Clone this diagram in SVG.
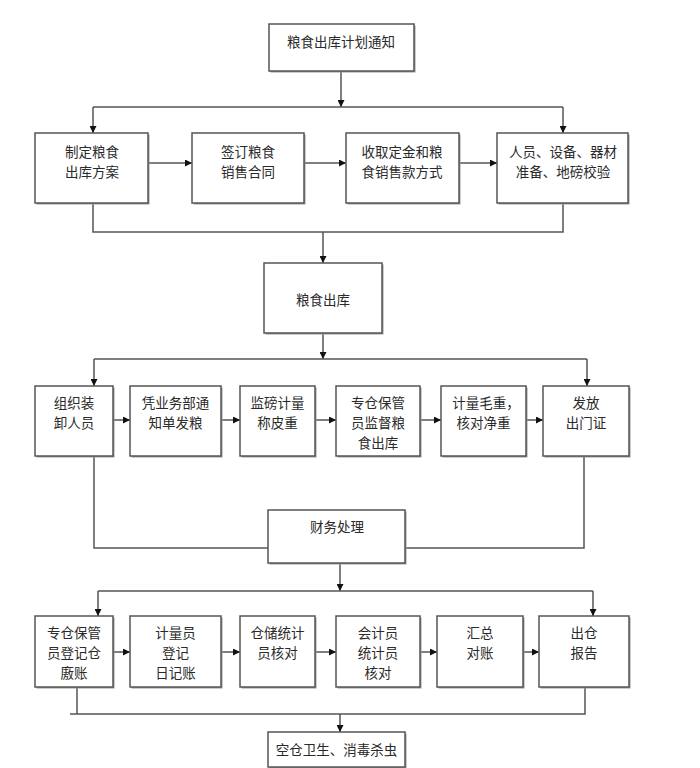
<svg xmlns="http://www.w3.org/2000/svg" width="700" height="768" viewBox="0 0 700 768">
<defs>
<marker id="ah" viewBox="0 0 10 10" refX="10" refY="5" markerWidth="7" markerHeight="7" markerUnits="userSpaceOnUse" orient="auto">
<path d="M0,0 L10,5 L0,10 z" fill="#111"/>
</marker>
<style>
.box{fill:#fff;stroke:#555;stroke-width:1.5}
.sh{fill:#9a9a9a}
.t{font-family:"Noto Sans CJK SC","Noto Sans",sans-serif;font-size:13.5px;fill:#2a2a2a;text-anchor:middle}
.c{fill:none;stroke:#555;stroke-width:1.5}
.a{marker-end:url(#ah)}
</style>
</defs>
<rect width="700" height="768" fill="#fff"/>
<g id="connectors">
<path class="c a" d="M341,71 V107"/>
<path class="c" d="M93,107 H563"/>
<path class="c a" d="M93,107 V133"/>
<path class="c a" d="M563,107 V133"/>
<path class="c a" d="M148,163 H192"/>
<path class="c a" d="M304,163 H346"/>
<path class="c a" d="M459,163 H497"/>
<path class="c" d="M93,203 V232 H563 V203"/>
<path class="c a" d="M323,232 V263"/>
<path class="c a" d="M323,333 V359"/>
<path class="c" d="M94,359 H587"/>
<path class="c a" d="M94,359 V386"/>
<path class="c a" d="M587,359 V386"/>
<path class="c a" d="M113,420 H130"/>
<path class="c a" d="M221,420 H240"/>
<path class="c a" d="M315,420 H336"/>
<path class="c a" d="M420,420 H441"/>
<path class="c a" d="M526,420 H543"/>
<path class="c" d="M94,456 V548 H268"/>
<path class="c" d="M584,456 V548 H405"/>
<path class="c a" d="M340,563 V591"/>
<path class="c" d="M98,591 H593"/>
<path class="c a" d="M98,591 V616"/>
<path class="c a" d="M593,591 V616"/>
<path class="c a" d="M113,652 H130"/>
<path class="c a" d="M221,652 H240"/>
<path class="c a" d="M315,652 H336"/>
<path class="c a" d="M420,652 H437"/>
<path class="c a" d="M523,652 H539"/>
<path class="c" d="M77,687 V714"/>
<path class="c" d="M70,714 H585 V687"/>
<path class="c a" d="M340,714 V732"/>
</g>
<g id="n0"><rect class="sh" x="270.5" y="25.5" width="145" height="47"/><rect class="box" x="269" y="24" width="145" height="47"/><text class="t" x="341" y="47">粮食出库计划通知</text></g>
<g id="n1"><rect class="sh" x="36.5" y="134.5" width="113" height="70"/><rect class="box" x="35" y="133" width="113" height="70"/><text class="t" x="92" y="157">制定粮食</text><text class="t" x="92" y="177">出库方案</text></g>
<g id="n2"><rect class="sh" x="193.5" y="134.5" width="112" height="70"/><rect class="box" x="192" y="133" width="112" height="70"/><text class="t" x="248" y="157">签订粮食</text><text class="t" x="248" y="177">销售合同</text></g>
<g id="n3"><rect class="sh" x="347.5" y="134.5" width="113" height="70"/><rect class="box" x="346" y="133" width="113" height="70"/><text class="t" x="402" y="157">收取定金和粮</text><text class="t" x="402" y="177">食销售款方式</text></g>
<g id="n4"><rect class="sh" x="498.5" y="134.5" width="131" height="70"/><rect class="box" x="497" y="133" width="131" height="70"/><text class="t" x="563" y="157">人员、设备、器材</text><text class="t" x="563" y="177">准备、地磅校验</text></g>
<g id="n5"><rect class="sh" x="265.5" y="264.5" width="118" height="70"/><rect class="box" x="264" y="263" width="118" height="70"/><text class="t" x="323" y="305">粮食出库</text></g>
<g id="n6"><rect class="sh" x="36.5" y="387.5" width="78" height="70"/><rect class="box" x="35" y="386" width="78" height="70"/><text class="t" x="74" y="408">组织装</text><text class="t" x="74" y="428">卸人员</text></g>
<g id="n7"><rect class="sh" x="131.5" y="387.5" width="91" height="70"/><rect class="box" x="130" y="386" width="91" height="70"/><text class="t" x="175.5" y="408">凭业务部通</text><text class="t" x="175.5" y="428">知单发粮</text></g>
<g id="n8"><rect class="sh" x="241.5" y="387.5" width="75" height="70"/><rect class="box" x="240" y="386" width="75" height="70"/><text class="t" x="277.5" y="408">监磅计量</text><text class="t" x="277.5" y="428">称皮重</text></g>
<g id="n9"><rect class="sh" x="337.5" y="387.5" width="84" height="70"/><rect class="box" x="336" y="386" width="84" height="70"/><text class="t" x="378" y="408">专仓保管</text><text class="t" x="378" y="428">员监督粮</text><text class="t" x="378" y="448">食出库</text></g>
<g id="n10"><rect class="sh" x="442.5" y="387.5" width="85" height="70"/><rect class="box" x="441" y="386" width="85" height="70"/><text class="t" x="486" y="408">计量毛重，</text><text class="t" x="483.5" y="428">核对净重</text></g>
<g id="n11"><rect class="sh" x="544.5" y="387.5" width="86" height="70"/><rect class="box" x="543" y="386" width="86" height="70"/><text class="t" x="586" y="408">发放</text><text class="t" x="586" y="428">出门证</text></g>
<g id="n12"><rect class="sh" x="269.5" y="511.5" width="137" height="53"/><rect class="box" x="268" y="510" width="137" height="53"/><text class="t" x="337" y="532">财务处理</text></g>
<g id="n13"><rect class="sh" x="36.5" y="617.5" width="78" height="71"/><rect class="box" x="35" y="616" width="78" height="71"/><text class="t" x="74" y="638">专仓保管</text><text class="t" x="74" y="658">员登记仓</text><text class="t" x="74" y="678">廒账</text></g>
<g id="n14"><rect class="sh" x="131.5" y="617.5" width="91" height="71"/><rect class="box" x="130" y="616" width="91" height="71"/><text class="t" x="175.5" y="638">计量员</text><text class="t" x="175.5" y="658">登记</text><text class="t" x="175.5" y="678">日记账</text></g>
<g id="n15"><rect class="sh" x="241.5" y="617.5" width="75" height="71"/><rect class="box" x="240" y="616" width="75" height="71"/><text class="t" x="277.5" y="638">仓储统计</text><text class="t" x="277.5" y="658">员核对</text></g>
<g id="n16"><rect class="sh" x="337.5" y="617.5" width="84" height="71"/><rect class="box" x="336" y="616" width="84" height="71"/><text class="t" x="378" y="638">会计员</text><text class="t" x="378" y="658">统计员</text><text class="t" x="378" y="678">核对</text></g>
<g id="n17"><rect class="sh" x="438.5" y="617.5" width="86" height="71"/><rect class="box" x="437" y="616" width="86" height="71"/><text class="t" x="480" y="638">汇总</text><text class="t" x="480" y="658">对账</text></g>
<g id="n18"><rect class="sh" x="540.5" y="617.5" width="90" height="71"/><rect class="box" x="539" y="616" width="90" height="71"/><text class="t" x="584" y="638">出仓</text><text class="t" x="584" y="658">报告</text></g>
<g id="n19"><rect class="sh" x="269.5" y="733.5" width="137" height="35"/><rect class="box" x="268" y="732" width="137" height="35"/><text class="t" x="336.5" y="755">空仓卫生、消毒杀虫</text></g>
</svg>
